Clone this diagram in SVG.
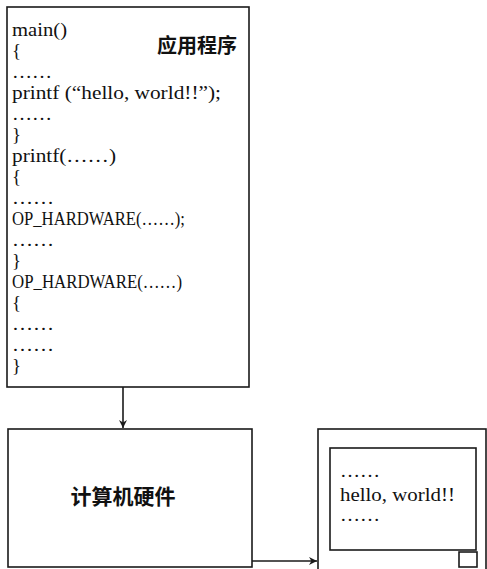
<svg xmlns="http://www.w3.org/2000/svg" width="487" height="569" viewBox="0 0 487 569">
<style>
.box{fill:#fff;stroke:#1a1a1a;stroke-width:1.6}
.code{font-family:"Liberation Serif","Times New Roman",serif;font-size:18.8px;fill:#111}
.mon{font-family:"Liberation Serif","Times New Roman",serif;font-size:19px;fill:#111}
.cjk{font-family:"Noto Sans CJK SC","Noto Sans",sans-serif;font-weight:bold;fill:#111}
.conn{stroke:#1a1a1a;stroke-width:1.6;fill:none}
</style>
<defs>
<marker id="ah" viewBox="0 0 10 10" refX="10" refY="5" markerWidth="8" markerHeight="8" markerUnits="userSpaceOnUse" orient="auto">
<path d="M0,0 L10,5 L0,10 L3,5 Z" fill="#1a1a1a"/>
</marker>
</defs>
<rect width="487" height="569" fill="#fff"/>
<g id="app">
<rect class="box" x="7" y="7" width="242" height="380"/>
<text class="cjk" x="157" y="53" font-size="20">应用程序</text>
<text class="code" x="12" y="36" textLength="55" lengthAdjust="spacingAndGlyphs">main()</text>
<text class="code" x="12" y="57">{</text>
<text class="code" x="12" y="78" textLength="40" lengthAdjust="spacingAndGlyphs">……</text>
<text class="code" x="12" y="99" textLength="209" lengthAdjust="spacingAndGlyphs">printf (“hello, world!!”);</text>
<text class="code" x="12" y="120" textLength="40" lengthAdjust="spacingAndGlyphs">……</text>
<text class="code" x="12" y="141">}</text>
<text class="code" x="12" y="162" textLength="104" lengthAdjust="spacingAndGlyphs">printf(……)</text>
<text class="code" x="12" y="183">{</text>
<text class="code" x="12" y="204" textLength="42" lengthAdjust="spacingAndGlyphs">……</text>
<text class="code" x="12" y="225" textLength="173" lengthAdjust="spacingAndGlyphs">OP_HARDWARE(……);</text>
<text class="code" x="12" y="246" textLength="42" lengthAdjust="spacingAndGlyphs">……</text>
<text class="code" x="12" y="267">}</text>
<text class="code" x="12" y="288" textLength="170" lengthAdjust="spacingAndGlyphs">OP_HARDWARE(……)</text>
<text class="code" x="12" y="309">{</text>
<text class="code" x="12" y="330" textLength="42" lengthAdjust="spacingAndGlyphs">……</text>
<text class="code" x="12" y="351" textLength="42" lengthAdjust="spacingAndGlyphs">……</text>
<text class="code" x="12" y="372">}</text>
</g>
<g id="hardware">
<rect class="box" x="8" y="429" width="244" height="138"/>
<text class="cjk" x="123" y="504" font-size="21" text-anchor="middle">计算机硬件</text>
</g>
<g id="monitor">
<rect class="box" x="318" y="429" width="168" height="150"/>
<rect class="box" x="330" y="448" width="146" height="102"/>
<rect class="box" x="459" y="552" width="18" height="15"/>
<text class="mon" x="340" y="477" font-size="18" textLength="40" lengthAdjust="spacingAndGlyphs">……</text>
<text class="mon" x="340" y="501" textLength="115" lengthAdjust="spacingAndGlyphs">hello, world!!</text>
<text class="mon" x="340" y="521" font-size="17" textLength="40" lengthAdjust="spacingAndGlyphs">……</text>
</g>
<g id="connectors">
<line class="conn" x1="123" y1="387" x2="123" y2="428" marker-end="url(#ah)"/>
<line class="conn" x1="252" y1="561" x2="317" y2="561" marker-end="url(#ah)"/>
</g>
</svg>
